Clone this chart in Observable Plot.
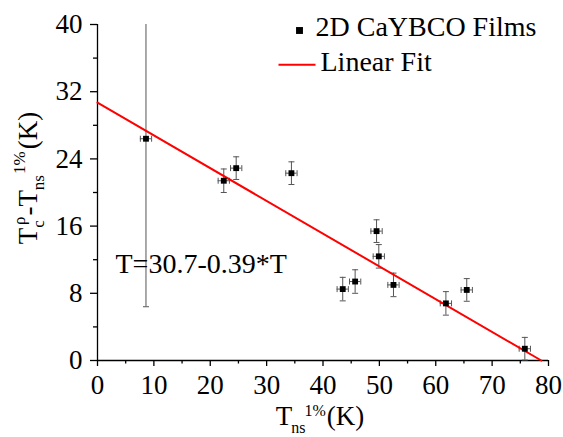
<!DOCTYPE html>
<html><head><meta charset="utf-8">
<script src="https://cdn.jsdelivr.net/npm/d3@7"></script>
<script src="https://cdn.jsdelivr.net/npm/@observablehq/plot@0.6"></script>
<style>body{margin:0;background:#fff} #chart{width:563px;height:437px}</style>
</head><body><div id="chart"></div>
<script>
// Data
const tns = [8.6, 22.4, 24.6, 34.4, 43.5, 45.7, 49.5, 49.9, 52.5, 61.8, 65.5, 75.8];
const dT  = [26.4, 21.4, 22.9, 22.3, 8.5, 9.4, 15.4, 12.4, 9.0, 6.8, 8.4, 1.4];
const xErr = [1, 1, 1, 1, 1, 1, 1, 1, 1, 1, 1, 1];
const yErr = [20, 1.4, 1.35, 1.35, 1.4, 1.4, 1.35, 1.4, 1.4, 1.4, 1.35, 1.35];
const fitIntercept = 30.7;
const fitSlope = -0.39;
const xTicks = [0, 10, 20, 30, 40, 50, 60, 70, 80];
const xMinor = [5, 15, 25, 35, 45, 55, 65, 75];
const yTicks = [0, 8, 16, 24, 32, 40];
const yMinor = [4, 12, 20, 28, 36];
const seriesName = "2D CaYBCO Films";
const fitName = "Linear Fit";
const equation = "T=30.7-0.39*T";

const rows = tns.map((x, i) => ({x, y: dT[i], xe: xErr[i], ye: yErr[i]}));
const fitX = [0, -fitIntercept / fitSlope];
const fitRows = fitX.map(x => ({x, y: fitIntercept + fitSlope * x}));

const hcap = {draw(ctx, size) { const r = Math.sqrt(size / Math.PI); ctx.moveTo(-r, 0); ctx.lineTo(r, 0); }};
const vcap = {draw(ctx, size) { const r = Math.sqrt(size / Math.PI); ctx.moveTo(0, -r); ctx.lineTo(0, r); }};
const errColor = "#555";
const font = "Liberation Serif, Times New Roman, serif";

const plot = Plot.plot({
  width: 563, height: 437,
  marginLeft: 97, marginRight: 15, marginTop: 24, marginBottom: 77,
  x: {domain: [0, 80]},
  y: {domain: [0, 40]},
  style: {fontFamily: font, fontSize: "27px", color: "#000", background: "#fff", overflow: "visible"},
  marks: [
    Plot.axisX({ticks: xTicks, tickSize: 6, tickPadding: 8, label: null, fontSize: 27, strokeWidth: 1.3}),
    Plot.axisX({ticks: xMinor, tickSize: 3.5, text: null, label: null, strokeWidth: 1.3}),
    Plot.axisY({ticks: yTicks, tickSize: 7, tickPadding: 8, label: null, fontSize: 27, strokeWidth: 1.3}),
    Plot.axisY({ticks: yMinor, tickSize: 4, text: null, label: null, strokeWidth: 1.3}),
    Plot.ruleX([0], {strokeWidth: 1.3}),
    Plot.ruleY([0], {strokeWidth: 1.3}),
    Plot.ruleX(rows, {x: "x", y1: d => d.y - d.ye, y2: d => d.y + d.ye, stroke: errColor, strokeWidth: 1, clip: true}),
    Plot.ruleY(rows, {y: "y", x1: d => d.x - d.xe, x2: d => d.x + d.xe, stroke: errColor, strokeWidth: 1}),
    Plot.dot(rows, {x: "x", y: d => d.y - d.ye, symbol: hcap, r: 3, stroke: errColor, strokeWidth: 1}),
    Plot.dot(rows, {x: "x", y: d => d.y + d.ye, symbol: hcap, r: 3, stroke: errColor, strokeWidth: 1, clip: true}),
    Plot.dot(rows, {x: d => d.x - d.xe, y: "y", symbol: vcap, r: 3, stroke: errColor, strokeWidth: 1}),
    Plot.dot(rows, {x: d => d.x + d.xe, y: "y", symbol: vcap, r: 3, stroke: errColor, strokeWidth: 1}),
    Plot.line(fitRows, {x: "x", y: "y", stroke: "#ff0000", strokeWidth: 2}),
    Plot.dot(rows, {x: "x", y: "y", symbol: "square", r: 3.3, fill: "#000", stroke: "none"}),
    Plot.text([equation], {frameAnchor: "bottom-left", dx: 18, dy: -88, textAnchor: "start", lineAnchor: "bottom", fontSize: 28}),
    // legend
    Plot.dot([seriesName], {frameAnchor: "top-left", dx: 202, dy: 6, symbol: "square", r: 3.9, fill: "#000", stroke: "none"}),
    Plot.text([seriesName], {frameAnchor: "top-left", dx: 218, dy: 11, textAnchor: "start", lineAnchor: "bottom", fontSize: 28}),
    Plot.dot([fitName], {frameAnchor: "top-left", dx: 199.5, dy: 40.3, symbol: hcap, r: 18.5, stroke: "#ff0000", strokeWidth: 2}),
    Plot.text([fitName], {frameAnchor: "top-left", dx: 223, dy: 46, textAnchor: "start", lineAnchor: "bottom", fontSize: 28})
  ]
});

const svg = d3.select(plot);
// x-axis label with sub/superscripts
const xl = svg.append("text").attr("x", 320).attr("y", 425).attr("text-anchor", "middle")
  .attr("font-family", font).attr("font-size", 27).attr("fill", "#000");
xl.append("tspan").text("T");
xl.append("tspan").attr("font-size", 16).attr("dy", 8).attr("dx", -1).text("ns");
xl.append("tspan").attr("font-size", 16).attr("dy", -17).attr("dx", -1).text("1%");
xl.append("tspan").attr("font-size", 27).attr("dy", 9).attr("dx", 1).text("(K)");

// y-axis label
const yl = svg.append("text").attr("transform", "translate(37,178) rotate(-90)").attr("text-anchor", "middle")
  .attr("font-family", font).attr("font-size", 27).attr("fill", "#000");
yl.append("tspan").text("T");
yl.append("tspan").attr("font-size", 17).attr("dy", 7).text("c");
yl.append("tspan").attr("font-size", 17).attr("dy", -19).attr("dx", -5).text("\u03c1");
yl.append("tspan").attr("font-size", 27).attr("dy", 12).attr("dx", 1).text("-T");
yl.append("tspan").attr("font-size", 17).attr("dy", 7).text("ns");
yl.append("tspan").attr("font-size", 17).attr("dy", -19).attr("dx", 1).text("1%");
yl.append("tspan").attr("font-size", 27).attr("dy", 12).attr("dx", 2).text("(K)");

document.getElementById("chart").appendChild(plot);
</script>
</body></html>
